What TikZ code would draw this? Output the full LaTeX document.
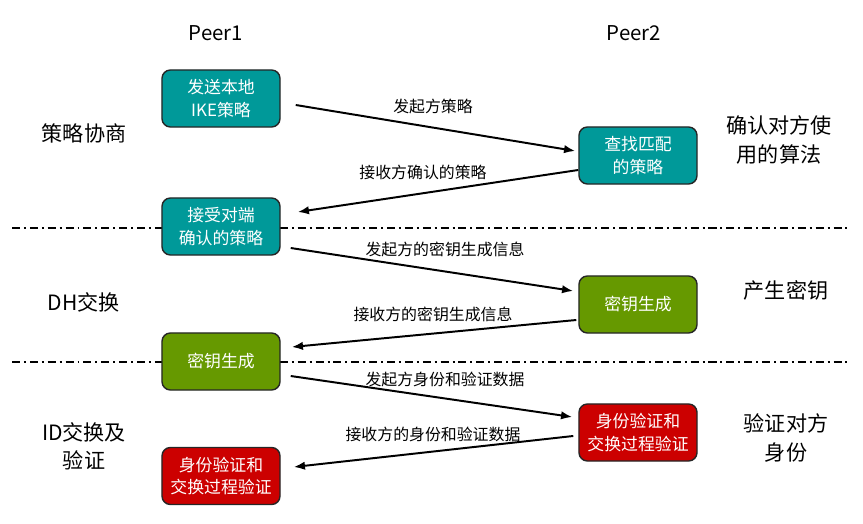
\documentclass[tikz,border=0pt]{standalone}
\usepackage{fontspec}
\setmainfont{Noto Sans CJK SC}
\usetikzlibrary{arrows.meta, calc}

\definecolor{peerteal}{HTML}{009999}
\definecolor{peergreen}{HTML}{669900}
\definecolor{peerred}{HTML}{CC0000}

\tikzset{
	stepbox/.style={draw=black!85, line width=1pt, rounded corners=6pt, minimum width=2.95cm, minimum height=1.425cm, align=center, text=white, font=\fontsize{12}{16}\selectfont, inner sep=1pt},
	msg/.style={line width=1.4pt, -{Latex[length=8pt, width=6pt]}},
	msglabel/.style={font=\fontsize{11.3}{13}\selectfont, inner sep=0pt},
	phase/.style={font=\fontsize{15}{20}\selectfont, align=center, inner sep=0pt},
	divider/.style={line width=1pt, dash pattern=on 5.7pt off 2.8pt on 1.4pt off 2.8pt},
}

\begin{document}
\begin{tikzpicture}[x=0.025cm, y=-0.025cm]
	\useasboundingbox (0,0) rectangle (863,524);
	% phase dividers
	\coordinate (d1l) at (12,228);
	\coordinate (d1r) at (850,228);
	\coordinate (d2l) at (12,362);
	\coordinate (d2r) at (850,362);
	\draw[divider] (d1l) -- (d1r);
	\draw[divider] (d2l) -- (d2r);
	% peers
	\node[font=\fontsize{14.5}{16}\selectfont] (peer1) at (216,33) {Peer1};
	\node[font=\fontsize{14.5}{16}\selectfont] (peer2) at (634,33) {Peer2};
	% boxes of peer1
	\node[stepbox, fill=peerteal] (p1a) at (221,98.5) {发送本地\\IKE策略};
	\node[stepbox, fill=peerteal] (p1b) at (221,226.5) {接受对端\\确认的策略};
	\node[stepbox, fill=peergreen] (p1c) at (221,361.5) {密钥生成};
	\node[stepbox, fill=peerred] (p1d) at (221,476) {身份验证和\\交换过程验证};
	% boxes of peer2
	\node[stepbox, fill=peerteal] (p2a) at (638,155.5) {查找匹配\\的策略};
	\node[stepbox, fill=peergreen] (p2b) at (638,304.5) {密钥生成};
	\node[stepbox, fill=peerred] (p2c) at (638,432.5) {身份验证和\\交换过程验证};
	% phases
	\node[phase] (ph1) at (84,133) {策略协商};
	\node[phase] (ph2) at (84,302) {DH交换};
	\node[phase] (ph3) at (84,446) {ID交换及\\验证};
	\node[phase] (rs1) at (779,140) {确认对方使\\用的算法};
	\node[phase] (rs2) at (786,290) {产生密钥};
	\node[phase] (rs3) at (786,438) {验证对方\\身份};
	% messages
	\draw[msg] ([shift={(15,6.5)}]p1a.east) -- ([shift={(-3,-4.5)}]p2a.west);
	\draw[msg] ([shift={(0,14.5)}]p2a.west) -- ([shift={(17,-14.5)}]p1b.east);
	\draw[msg] ([shift={(10,21.5)}]p1b.east) -- ([shift={(-5,-13.5)}]p2b.west);
	\draw[msg] ([shift={(-2,15.5)}]p2b.west) -- ([shift={(11,-14.5)}]p1c.east);
	\draw[msg] ([shift={(10,14.5)}]p1c.east) -- ([shift={(-6,-15.5)}]p2c.west);
	\draw[msg] ([shift={(-5,3.5)}]p2c.west) -- ([shift={(13,-9)}]p1d.east);
	\node[msglabel] (m1) at (433,106) {发起方策略};
	\node[msglabel] (m2) at (423,172) {接收方确认的策略};
	\node[msglabel] (m3) at (445,249) {发起方的密钥生成信息};
	\node[msglabel] (m4) at (433,314) {接收方的密钥生成信息};
	\node[msglabel] (m5) at (445,379) {发起方身份和验证数据};
	\node[msglabel] (m6) at (433,434) {接收方的身份和验证数据};
\end{tikzpicture}
\end{document}
